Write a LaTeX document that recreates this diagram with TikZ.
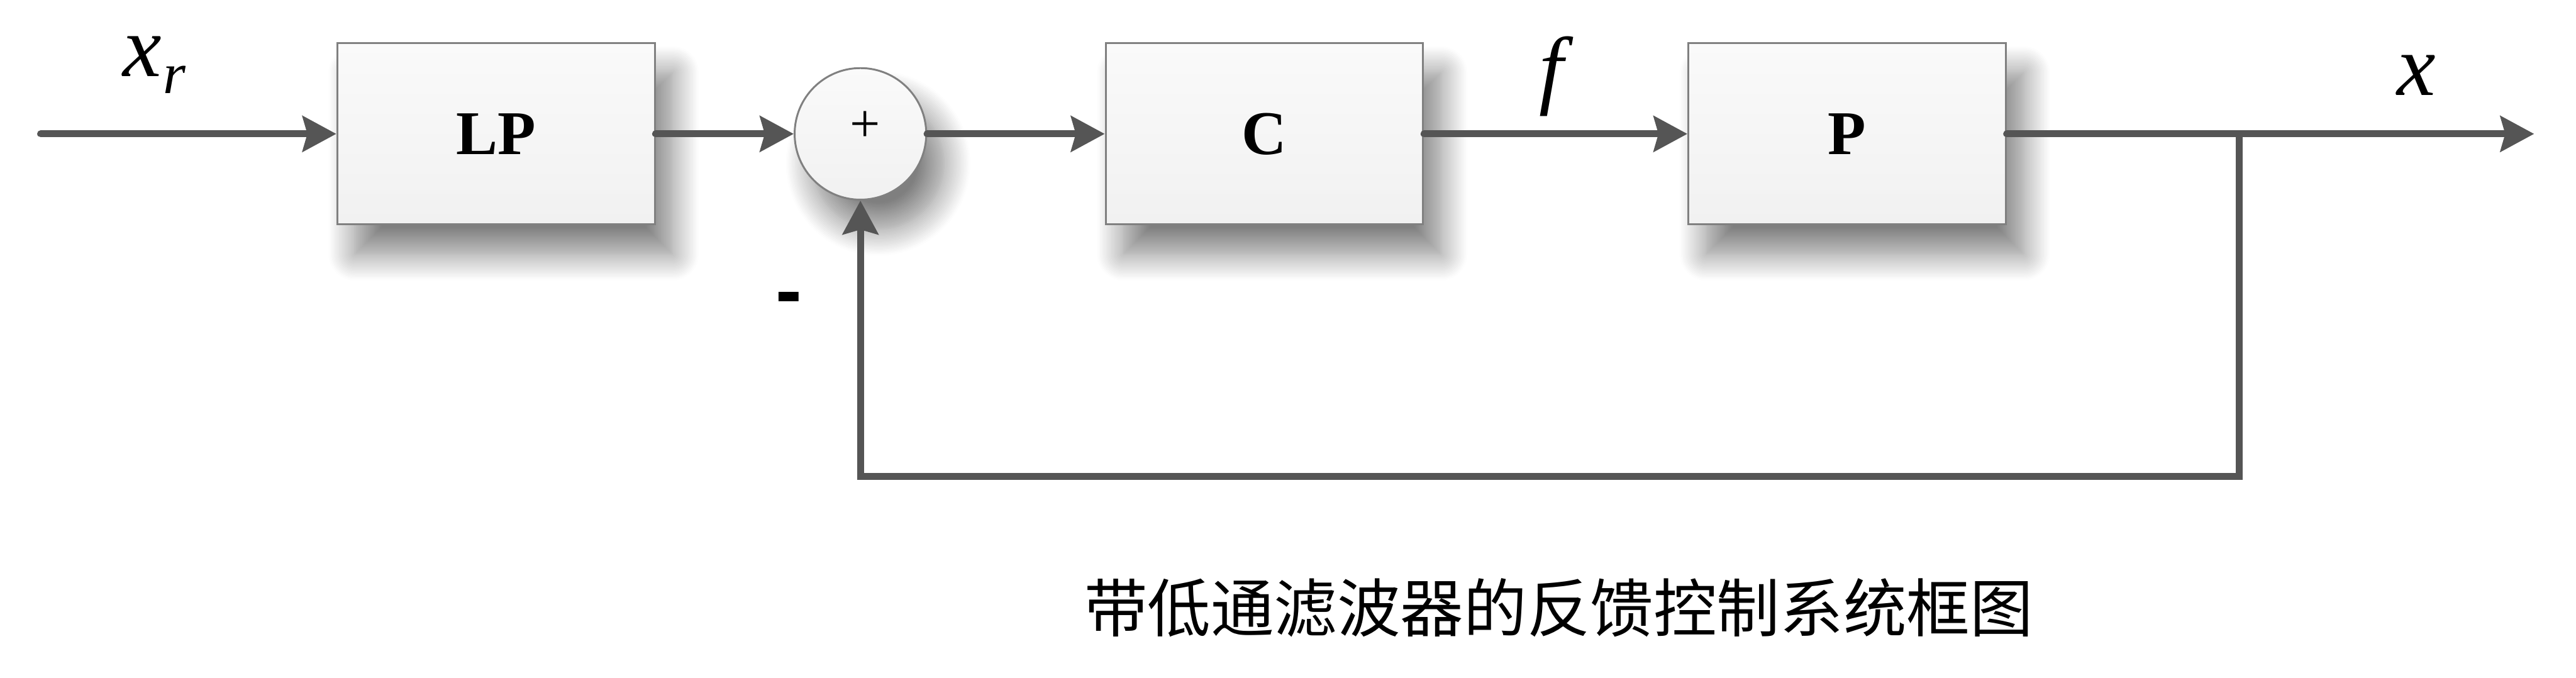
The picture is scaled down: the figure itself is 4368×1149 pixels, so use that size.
\documentclass[tikz,border=0pt]{standalone}
\usepackage{fontspec}
\setmainfont{Liberation Serif}
\newfontfamily\cjk{Noto Sans CJK SC}
\newfontfamily\sansf{Liberation Sans}
\newfontfamily\serifit{Liberation Serif Italic}
\usetikzlibrary{arrows.meta,shadows.blur}
\definecolor{linegray}{HTML}{555555}
\definecolor{bordergray}{HTML}{808080}
\definecolor{filltop}{HTML}{FAFAFA}
\definecolor{fillbot}{HTML}{F1F1F1}
\tikzset{
  myshadow/.style={blur shadow={shadow xshift=0.3cm, shadow yshift=-0.5cm, shadow blur radius=0.45cm, shadow blur steps=18, shadow opacity=50}},
  blockbox/.style={draw=bordergray, line width=0.9pt, top color=filltop, bottom color=fillbot,
    minimum width=5.38cm, minimum height=3.07cm, inner sep=0pt, myshadow,
    font=\fontsize{30}{36}\selectfont\bfseries},
  sumnode/.style={circle, draw=bordergray, line width=0.9pt, top color=filltop, bottom color=fillbot,
    minimum size=2.23cm, inner sep=0pt, myshadow},
  conn/.style={draw=linegray, line width=0.12cm, line cap=round,
    -{Stealth[length=0.57cm, width=0.6cm, inset=0.08cm]}},
  lbl/.style={inner sep=0pt, font=\serifit\fontsize{42}{50}\selectfont},
}
\begin{document}
\begin{tikzpicture}[x=0.01cm, y=-0.01cm]
\useasboundingbox (0,0) rectangle (4368,1149);
\node[blockbox] (lp) at (841,227) {LP};
\node[sumnode] (sum) at (1459,227) {};
\node[inner sep=0pt, font=\fontsize{26}{30}\selectfont] (plus) at (1467,215) {+};
\node[blockbox] (c) at (2144,227) {C};
\node[blockbox] (p) at (3132,227) {P};
\coordinate (in) at (69,227);
\coordinate (out) at (4297,227);
\coordinate (branch) at (3797,227);
\coordinate (fbr) at (3797,808);
\draw[conn] (in) -- (lp.west);
\draw[conn] (lp.east) -- (sum.west);
\draw[conn] (sum.east) -- (c.west);
\draw[conn] (c.east) -- (p.west);
\draw[conn] (p.east) -- (out);
\draw[conn, line cap=butt] (branch) -- (fbr) -| (sum.south);
\node[lbl] (xr) at (262,110) {x\kern0.02em\raisebox{-0.2em}{\fontsize{28}{34}\selectfont r}};
\node[lbl] (f) at (2631,130) {f};
\node[lbl] (x) at (4097,128) {x};
\node[inner sep=0pt, font=\sansf\bfseries\fontsize{38}{44}\selectfont] (minus) at (1338,517) {-};
\node[inner sep=0pt, font=\cjk\fontsize{30.5}{36}\selectfont] (cap) at (2643,1031) {带低通滤波器的反馈控制系统框图};
\end{tikzpicture}
\end{document}
